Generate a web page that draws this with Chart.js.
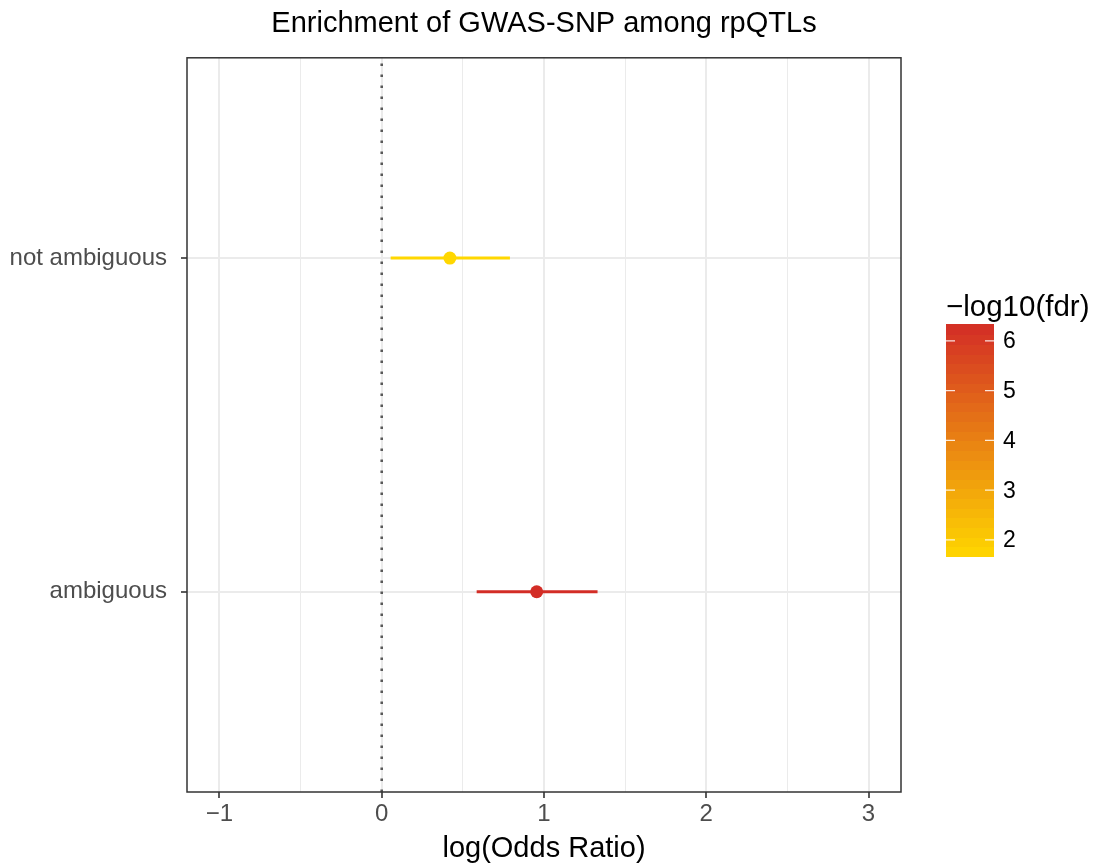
<!DOCTYPE html>
<html>
<head>
<meta charset="utf-8">
<title>Enrichment of GWAS-SNP among rpQTLs</title>
<script src="https://cdn.jsdelivr.net/npm/chart.js@4.4.1/dist/chart.umd.min.js"></script>
<style>
    html, body { margin: 0; padding: 0; background: #fff; }
    #wrap { width: 1096px; height: 867px; }
</style>
</head>
<body>
<div id="wrap"><canvas id="chart" width="1096" height="867"></canvas></div>
<script>
// rows of the forest plot (y = 1, 2)
const categories = ["ambiguous", "not ambiguous"];
const logOddsRatio = [0.955, 0.42];
const ciLower = [0.585, 0.055];
const ciUpper = [1.33, 0.79];
const negLog10Fdr = [6.32, 1.68];

// axis / legend ticks
const xTicks = [-1, -0.5, 0, 0.5, 1, 1.5, 2, 2.5, 3];
const fdrTicks = [2, 3, 4, 5, 6];

const FONT = "'Liberation Sans', Arial, Helvetica, sans-serif";
const lowColor = [255, 215, 0];
const highColor = [211, 45, 38];
const fdrMin = Math.min(...negLog10Fdr);
const fdrMax = Math.max(...negLog10Fdr);

function fdrColor(v) {
    let t = (v - fdrMin) / (fdrMax - fdrMin);
    t = Math.max(0, Math.min(1, t));
    const c = lowColor.map(function (lo, i) {
        return Math.round(lo + (highColor[i] - lo) * t);
    });
    return "rgb(" + c.join(",") + ")";
}

function minusSign(v) {
    return v < 0 ? "\u2212" + Math.abs(v) : String(v);
}

// error bars, one line dataset per row
const ciSets = categories.map(function (name, i) {
    return {
        type: "line",
        label: name + " CI",
        data: [
            { x: ciLower[i], y: i + 1 },
            { x: ciUpper[i], y: i + 1 },
        ],
        borderColor: fdrColor(negLog10Fdr[i]),
        borderWidth: 3,
        pointRadius: 0,
        showLine: true,
        order: 2,
    };
});

const zeroLine = {
    type: "line",
    label: "zero",
    data: [
        { x: 0, y: 0.4 },
        { x: 0, y: 2.6 },
    ],
    borderColor: "#595959",
    borderWidth: 2.6,
    borderDash: [2.6, 8.4],
    pointRadius: 0,
    showLine: true,
    order: 3,
};

const pointSet = {
    type: "scatter",
    label: "log(Odds Ratio)",
    data: logOddsRatio.map(function (v, i) {
        return { x: v, y: i + 1 };
    }),
    backgroundColor: negLog10Fdr.map(fdrColor),
    borderWidth: 0,
    pointRadius: 6.5,
    pointHoverRadius: 6.5,
    order: 1,
};

// panel border + colourbar legend
const decorations = {
    id: "decorations",
    afterDraw: function (chart) {
        const ctx = chart.ctx;
        const a = chart.chartArea;
        ctx.save();
        ctx.strokeStyle = "#333333";
        ctx.lineWidth = 1.5;
        ctx.strokeRect(a.left, a.top, a.right - a.left, a.bottom - a.top);

        const barX = a.right + 45;
        const barW = 48;
        const barH = 231;
        const barTop = (a.top + a.bottom) / 2 - 100;
        const barBottom = barTop + barH;
        const nbin = 24;
        for (let k = 0; k < nbin; k++) {
            const v = fdrMin + (fdrMax - fdrMin) * (k + 0.5) / nbin;
            const y1 = barBottom - barH * (k + 1) / nbin;
            ctx.fillStyle = fdrColor(v);
            ctx.fillRect(barX, Math.floor(y1), barW, Math.ceil(barH / nbin) + 1);
        }
        ctx.fillStyle = "#000";
        ctx.font = "29.5px " + FONT;
        ctx.textAlign = "left";
        ctx.textBaseline = "alphabetic";
        ctx.fillText("\u2212log10(fdr)", barX, barTop - 9);

        ctx.font = "23px " + FONT;
        ctx.textBaseline = "middle";
        ctx.strokeStyle = "rgba(255,255,255,0.85)";
        ctx.lineWidth = 1.2;
        fdrTicks.forEach(function (t) {
            const y = barBottom - (t - fdrMin) / (fdrMax - fdrMin) * barH;
            ctx.beginPath();
            ctx.moveTo(barX, y);
            ctx.lineTo(barX + 9, y);
            ctx.moveTo(barX + barW - 9, y);
            ctx.lineTo(barX + barW, y);
            ctx.stroke();
            ctx.fillStyle = "#000";
            ctx.fillText(String(t), barX + 57, y + 1);
        });
        ctx.restore();
    },
};

new Chart("chart", {
    type: "scatter",
    data: { datasets: [pointSet].concat(ciSets, [zeroLine]) },
    options: {
        responsive: false,
        animation: false,
        layout: { padding: { left: 0, right: 195, top: 0, bottom: 0 } },
        plugins: {
            legend: { display: false },
            tooltip: { enabled: false },
            title: {
                display: true,
                text: "Enrichment of GWAS-SNP among rpQTLs",
                fullSize: false,
                color: "#000",
                font: { family: FONT, size: 29, weight: "normal" },
                padding: { top: 7, bottom: 16 },
            },
        },
        scales: {
            x: {
                type: "linear",
                min: -1.2,
                max: 3.2,
                afterBuildTicks: function (scale) {
                    scale.ticks = xTicks.map(function (v) {
                        return { value: v };
                    });
                },
                afterFit: function (scale) {
                    scale.height = 75;
                },
                ticks: {
                    autoSkip: false,
                    maxRotation: 0,
                    padding: 2,
                    color: "#4d4d4d",
                    font: { family: FONT, size: 24 },
                    callback: function (v) {
                        return Number.isInteger(v) ? minusSign(v) : "";
                    },
                },
                grid: {
                    color: "#ebebeb",
                    lineWidth: function (c) {
                        return c.tick && Number.isInteger(c.tick.value) ? 2 : 1;
                    },
                    tickLength: 6,
                    tickWidth: 1.6,
                    tickColor: function (c) {
                        return c.tick && Number.isInteger(c.tick.value) ? "#333333" : "rgba(0,0,0,0)";
                    },
                },
                border: { display: false },
                title: {
                    display: true,
                    text: "log(Odds Ratio)",
                    color: "#000",
                    font: { family: FONT, size: 29 },
                    padding: { top: 0, bottom: 1 },
                },
            },
            y: {
                type: "linear",
                min: 0.4,
                max: 2.6,
                afterBuildTicks: function (scale) {
                    scale.ticks = categories.map(function (c, i) {
                        return { value: i + 1 };
                    });
                },
                afterFit: function (scale) {
                    scale.width = 187;
                },
                ticks: {
                    autoSkip: false,
                    padding: 14,
                    color: "#4d4d4d",
                    font: { family: FONT, size: 24 },
                    callback: function (v) {
                        return categories[v - 1];
                    },
                },
                grid: {
                    color: "#ebebeb",
                    lineWidth: 2,
                    tickLength: 6,
                    tickWidth: 1.6,
                    tickColor: "#333333",
                },
                border: { display: false },
            },
        },
    },
    plugins: [decorations],
});
</script>
</body>
</html>
